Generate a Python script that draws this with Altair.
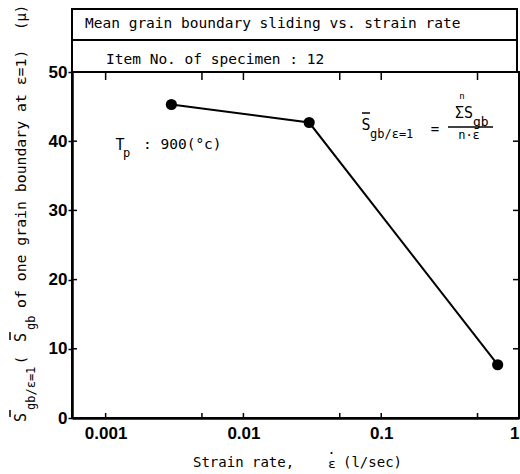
import altair as alt
import pandas as pd

# ---- data ----
strain_rate = [0.003, 0.03, 0.7]
sliding = [45.3, 42.7, 7.7]

x_label_values = [0.001, 0.01, 0.1, 1]
x_tick_values = [0.001, 0.005, 0.01, 0.05, 0.1, 0.5]
y_tick_values = [0, 10, 20, 30, 40, 50]
y_right_ticks = [10, 20, 30, 40]

header1 = "Mean grain boundary sliding vs. strain rate"
header2 = "Item No. of specimen : 12"

W, H = 447, 346
MONO = "DejaVu Sans Mono"
BOLD = "Liberation Sans"

df = pd.DataFrame({"rate": strain_rate, "s": sliding})
one = pd.DataFrame({"k": [0]})

xscale = alt.Scale(type="log", domain=[0.00057, 1], nice=False)
yscale = alt.Scale(domain=[0, 50], nice=False, zero=True)

xaxis = alt.Axis(values=x_label_values, format="~g", title=None,
                 ticks=False, labelPadding=7)
yaxis = alt.Axis(values=y_tick_values, title=None, tickSize=4, labelPadding=1)


def X(field):
    return alt.X(field, scale=xscale, axis=xaxis)


def Y(field):
    return alt.Y(field, scale=yscale, axis=yaxis)


line = alt.Chart(df).mark_line(color="black", strokeWidth=2).encode(
    x=X("rate:Q"), y=Y("s:Q"))
points = alt.Chart(df).mark_circle(size=125, color="black", opacity=1).encode(
    x=X("rate:Q"), y=Y("s:Q"))

xt = pd.DataFrame({"rate": x_tick_values})
top_ticks = alt.Chart(xt).mark_rule(color="black", strokeWidth=1.5).encode(
    x=X("rate:Q"), y=alt.value(0), y2=alt.value(8))
bottom_ticks = alt.Chart(xt).mark_rule(color="black", strokeWidth=1.5).encode(
    x=X("rate:Q"), y=alt.value(H), y2=alt.value(H - 5))
left_ticks = alt.Chart(pd.DataFrame({"s": y_tick_values})).mark_rule(
    color="black", strokeWidth=1.5).encode(
    y=Y("s:Q"), x=alt.value(0), x2=alt.value(5))
right_ticks = alt.Chart(pd.DataFrame({"s": y_right_ticks})).mark_rule(
    color="black", strokeWidth=1.5).encode(
    y=Y("s:Q"), x=alt.value(W), x2=alt.value(W - 6))


def txt(s, x, y, size=14.5, align="left", angle=0, baseline="middle"):
    kw = dict(align=align, baseline=baseline, font=MONO, fontSize=size, color="black")
    if angle:
        kw["angle"] = angle
    return alt.Chart(one).mark_text(**kw).encode(
        x=alt.value(x), y=alt.value(y), text=alt.value(s))


def hrule(x1, x2, y, w=1.5):
    return alt.Chart(one).mark_rule(color="black", strokeWidth=w).encode(
        x=alt.value(x1), x2=alt.value(x2), y=alt.value(y))


def vrule(x, y1, y2, w=1.5):
    return alt.Chart(one).mark_rule(color="black", strokeWidth=w).encode(
        x=alt.value(x), y=alt.value(y1), y2=alt.value(y2))


def dot(x, y):
    return alt.Chart(one).mark_circle(size=5, color="black", opacity=1).encode(
        x=alt.value(x), y=alt.value(y))


def box(y1, y2):
    return alt.Chart(one).mark_rect(fill="white", stroke="black", strokeWidth=2).encode(
        x=alt.value(0), x2=alt.value(445), y=alt.value(y1), y2=alt.value(y2))


layers = [
    line, points, top_ticks, bottom_ticks, left_ticks, right_ticks,
    box(-63, -32), box(-32, 0),
    txt(header1, 13, -48),
    txt(header2, 34, -12),
    # x title
    txt("Strain rate,", 121, 391, 14),
    txt("\u03b5", 260, 392, 13, align="center"),
    dot(259.5, 381),
    txt("(l/sec)", 271, 391, 14),
    # T_p annotation
    txt("T", 48, 73, 15, align="center"),
    txt("p", 51, 81, 12),
    txt(": 900(\u00b0c)", 71, 73),
    # formula
    hrule(290, 298, 41),
    txt("S", 294, 53, 15, align="center"),
    txt("gb/\u03b5=1", 298, 62, 12),
    txt("=", 363, 58, 14, align="center"),
    txt("n", 390, 24, 9, align="center"),
    txt("\u03a3S", 383, 41, 15),
    txt("gb", 401, 50, 13),
    hrule(376, 421, 55),
    txt("n\u00b7\u03b5", 397, 63, 12, align="center"),
    # rotated y title
    vrule(-62, 338, 345),
    txt("S", -51, 350, 15, angle=270),
    txt("gb/\u03b5=1", -41, 338, 12, angle=270),
    txt("(", -50, 288, 14, align="center", angle=270),
    vrule(-62, 260, 268),
    txt("S", -51, 270, 15, angle=270),
    txt("gb", -41, 258, 12, angle=270),
    txt("of one grain boundary at \u03b5=1)", -50, 236, 14.8, angle=270),
    txt("(\u03bc)", -50, -42, 14, angle=270),
]

chart = alt.layer(*layers).properties(
    width=W, height=H,
    autosize=alt.AutoSizeParams(type="none"),
    padding={"left": 72, "top": 72, "right": 1, "bottom": 56},
    background="white",
).configure_view(stroke="black", strokeWidth=2).configure_axis(
    domainColor="black", domainWidth=2.5, tickColor="black", tickWidth=1.5,
    labelFont=BOLD, labelFontWeight="bold", labelFontSize=17, labelColor="black",
    grid=False,
)

chart.save("out.html", embed_options={"renderer": "svg", "actions": False})
